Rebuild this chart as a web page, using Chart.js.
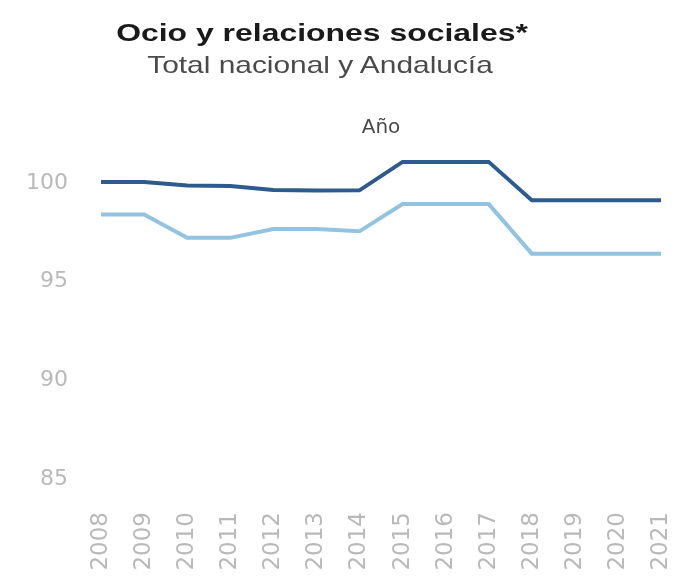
<!DOCTYPE html>
<html>
<head>
<meta charset="utf-8">
<script src="https://cdn.jsdelivr.net/npm/chart.js@4"></script>
<style>
  html, body { margin: 0; padding: 0; background: #ffffff; }
  #wrap { position: relative; width: 679px; height: 576px; }
  .ttl { position: absolute; white-space: nowrap; transform-origin: center;
    font-family: "Liberation Sans", Arial, sans-serif; line-height: 1; }
  #title { left: 322px; top: 21px; font-weight: bold; font-size: 24px; color: #1a1a1a; transform: translateX(-50%) scaleX(1.33); }
  #subtitle { left: 320px; top: 53px; font-size: 24px; color: #4a4a4a; transform: translateX(-50%) scaleX(1.245); }
  canvas { position: absolute; left: 0; top: 0; }
</style>
</head>
<body>
<div id="wrap">
  <canvas id="c" width="679" height="576"></canvas>
  <div id="title" class="ttl">Ocio y relaciones sociales*</div>
  <div id="subtitle" class="ttl">Total nacional y Andalucía</div>
</div>
<script>
const years = ["2008","2009","2010","2011","2012","2013","2014","2015","2016","2017","2018","2019","2020","2021"];
const totalNacional = [100.05,100.05,99.87,99.85,99.65,99.62,99.63,101.07,101.07,101.07,99.13,99.13,99.13,99.13];
const andalucia = [98.4,98.4,97.22,97.22,97.67,97.67,97.55,98.93,98.93,98.93,96.42,96.42,96.42,96.42];
const yTicks = [85, 90, 95, 100];

new Chart(document.getElementById('c'), {
  type: 'line',
  data: {
    labels: years,
    datasets: [
      { label: 'Total nacional', data: totalNacional, borderColor: '#2d5b8e', borderWidth: 4,
        pointRadius: 0, tension: 0, fill: false, xAxisID: 'x', yAxisID: 'y' },
      { label: 'Andalucía', data: andalucia, borderColor: '#92c4e2', borderWidth: 4,
        pointRadius: 0, tension: 0, fill: false, xAxisID: 'x', yAxisID: 'y' }
    ]
  },
  options: {
    responsive: false,
    animation: false,
    devicePixelRatio: 1,
    layout: { padding: { left: 0, right: 18, top: 108, bottom: 0 } },
    plugins: { legend: { display: false }, tooltip: { enabled: false }, title: { display: false } },
    scales: {
      x: {
        type: 'category', position: 'bottom', offset: false,
        grid: { display: false, drawTicks: false }, border: { display: false },
        ticks: { minRotation: 90, maxRotation: 90, autoSkip: false, padding: 33,
          color: '#b9b9b9', font: { family: 'DejaVu Sans', size: 23 } },
        afterFit: (s) => { s.height = 97; s.paddingLeft = 0; s.paddingRight = 0; }
      },
      xTop: {
        type: 'category', position: 'top', labels: years,
        grid: { display: false, drawTicks: false }, border: { display: false },
        ticks: { display: false },
        title: { display: true, text: 'Año', color: '#4a4a4a', padding: { top: 8, bottom: 4 },
          font: { family: 'DejaVu Sans', size: 20 } },
        afterFit: (s) => { s.height = 37.5; s.paddingLeft = 0; s.paddingRight = 0; }
      },
      y: {
        type: 'linear', min: 85, max: 101.9,
        afterBuildTicks: (axis) => { axis.ticks = yTicks.map(v => ({ value: v })); },
        grid: { display: false, drawTicks: false }, border: { display: false },
        ticks: { padding: 33, color: '#b9b9b9', font: { family: 'DejaVu Sans', size: 22 } },
        afterFit: (s) => { s.width = 101; s.paddingTop = 0; s.paddingBottom = 0; }
      }
    }
  }
});
</script>
</body>
</html>
